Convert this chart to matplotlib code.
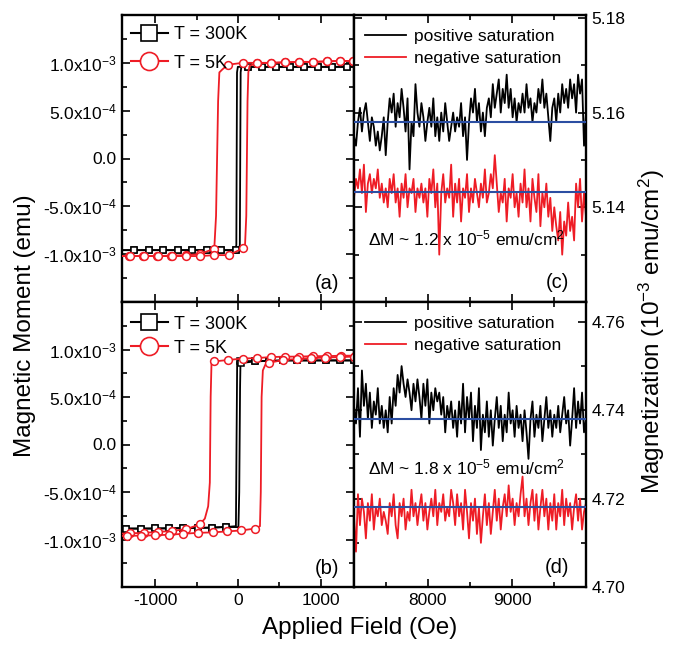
import numpy as np
import matplotlib
matplotlib.use('Agg')
import matplotlib.pyplot as plt
from matplotlib.lines import Line2D
from matplotlib.ticker import FixedLocator, FixedFormatter

plt.rcParams['font.family'] = ['Liberation Sans', 'DejaVu Sans']
plt.rcParams['mathtext.fontset'] = 'custom'
plt.rcParams['mathtext.rm'] = 'Liberation Sans'
plt.rcParams['mathtext.it'] = 'Liberation Sans:italic'
plt.rcParams['mathtext.bf'] = 'Liberation Sans:bold'
plt.rcParams['axes.unicode_minus'] = False

# ---------------- Hysteresis data (moment in 1e-3 emu) ----------------
# Panel (a) 300 K
a300_top_H = [1480, 1310, 1140, 968, 797, 627, 458, 287, 117]
a300_top_M = [0.958, 0.958, 0.958, 0.958, 0.958, 0.958, 0.958, 0.958, 0.958]
a300_bot_H = [-30, -205, -380, -556, -730, -903, -1077, -1250, -1480]
a300_bot_M = [-0.958, -0.958, -0.958, -0.958, -0.958, -0.958, -0.958, -0.958, -0.958]
a300_dtr_H = [-2, -12, -20, -28]
a300_dtr_M = [0.958, 0.9, -0.9, -0.958]
a300_atr_H = [15, 22, 32, 40]
a300_atr_M = [-0.958, -0.9, 0.9, 0.958]

# Panel (a) 5 K
a5_dtop_H = [1480, 1389, 1232, 1072, 907, 731, 566, 398, 229, 57, -124]
a5_dtop_M = [1.02, 1.02, 1.02, 1.015, 1.01, 1.01, 1.005, 1.0, 1.0, 1.0, 0.98]
a5_dtr_H = [-190, -225, -240, -265, -285]
a5_dtr_M = [0.93, 0.9, 0.6, -0.6, -0.92]
a5_dbot_H = [-293, -463, -633, -803, -973, -1143, -1313, -1480]
a5_dbot_M = [-0.945, -1.0, -1.01, -1.015, -1.02, -1.02, -1.02, -1.02]
a5_abot_H = [-1480, -1305, -1135, -965, -795, -625, -454, -285, -112, 57]
a5_abot_M = [-1.02, -1.02, -1.02, -1.02, -1.02, -1.02, -1.02, -1.01, -1.01, -0.94]
a5_atr_H = [85, 100, 115, 125, 140]
a5_atr_M = [-0.9, -0.6, 0.6, 0.9, 0.97]
a5_atop_H = [229, 398, 566, 731, 907, 1072, 1232, 1389, 1480]
a5_atop_M = [0.995, 1.0, 1.005, 1.01, 1.01, 1.015, 1.02, 1.02, 1.02]

# Panel (b) 300 K
b300_dtop_H = [1480, 1404, 1232, 1060, 888, 716, 544, 372, 200, 28]
b300_dtop_M = [0.885, 0.885, 0.885, 0.885, 0.885, 0.885, 0.885, 0.88, 0.88, 0.875]
b300_dtr_H = [-10, -18, -25]
b300_dtr_M = [0.87, 0.0, -0.86]
b300_dbot_H = [-144, -316, -488, -660, -832, -1004, -1176, -1348, -1480]
b300_dbot_M = [-0.868, -0.875, -0.878, -0.88, -0.882, -0.884, -0.885, -0.885, -0.885]
b300_abot_H = [-1480, -1348, -1176, -1004, -832, -660, -488, -316, -144]
b300_abot_M = [-0.885, -0.885, -0.885, -0.884, -0.882, -0.88, -0.878, -0.875, -0.868]
b300_atr_H = [5, 15, 25, 30]
b300_atr_M = [-0.87, -0.5, 0.6, 0.857]
b300_atop_H = [40, 200, 372, 544, 716, 888, 1060, 1232, 1404, 1480]
b300_atop_M = [0.857, 0.875, 0.88, 0.885, 0.885, 0.885, 0.885, 0.885, 0.885, 0.885]

# Panel (b) 5 K
b5_dtop_H = [1480, 1415, 1245, 1075, 905, 735, 565, 395, 225, 55, -115, -285]
b5_dtop_M = [0.935, 0.935, 0.935, 0.93, 0.93, 0.925, 0.925, 0.92, 0.91, 0.905, 0.89, 0.875]
b5_dtr_H = [-320, -330, -340, -360, -400, -440]
b5_dtr_M = [0.85, 0.5, -0.4, -0.65, -0.78, -0.82]
b5_dbot_H = [-454, -624, -794, -964, -1134, -1304, -1480]
b5_dbot_M = [-0.84, -0.89, -0.91, -0.92, -0.93, -0.935, -0.94]
b5_abot_H = [-1480, -1340, -1170, -1000, -830, -660, -486, -305, -133, 36, 205]
b5_abot_M = [-0.965, -0.96, -0.96, -0.955, -0.95, -0.94, -0.93, -0.925, -0.915, -0.905, -0.885]
b5_atr_H = [265, 275, 285, 300, 330]
b5_atr_M = [-0.86, -0.5, 0.5, 0.78, 0.84]
b5_atop_H = [377, 545, 715, 885, 1055, 1225, 1395, 1480]
b5_atop_M = [0.86, 0.89, 0.9, 0.91, 0.915, 0.92, 0.925, 0.925]

# ---------------- Saturation data (1e-3 emu/cm^2) ----------------
sat_field_start, sat_field_end = 7120, 9880

c_pos = [5.155, 5.153, 5.158, 5.161, 5.156, 5.160, 5.162, 5.158, 5.154, 5.159, 5.157, 5.153, 5.156, 5.152, 5.155, 5.159, 5.151,
         5.158, 5.163, 5.160, 5.164, 5.157, 5.162, 5.159, 5.165, 5.161, 5.156, 5.163, 5.148, 5.158, 5.155, 5.166, 5.160, 5.157,
         5.162, 5.159, 5.154, 5.158, 5.161, 5.157, 5.163, 5.155, 5.159, 5.154, 5.160, 5.156, 5.162, 5.158, 5.154, 5.157, 5.160,
         5.156, 5.159, 5.157, 5.162, 5.155, 5.159, 5.150, 5.158, 5.163, 5.160, 5.165, 5.158, 5.162, 5.156, 5.160, 5.155, 5.161,
         5.163, 5.159, 5.166, 5.161, 5.164, 5.167, 5.160, 5.165, 5.162, 5.168, 5.161, 5.165, 5.159, 5.163, 5.158, 5.162, 5.160,
         5.164, 5.160, 5.166, 5.161, 5.163, 5.158, 5.162, 5.160, 5.165, 5.162, 5.167, 5.161, 5.164, 5.159, 5.154, 5.161, 5.163,
         5.158, 5.164, 5.160, 5.166, 5.162, 5.165, 5.161, 5.167, 5.163, 5.166, 5.160, 5.168, 5.164, 5.167, 5.153, 5.160]
c_neg = [5.142, 5.146, 5.144, 5.148, 5.143, 5.149, 5.139, 5.145, 5.147, 5.143, 5.146, 5.144, 5.148, 5.142, 5.145, 5.141, 5.144,
         5.140, 5.146, 5.143, 5.147, 5.141, 5.144, 5.138, 5.145, 5.142, 5.147, 5.140, 5.144, 5.143, 5.146, 5.139, 5.144, 5.142,
         5.145, 5.141, 5.144, 5.138, 5.146, 5.143, 5.148, 5.140, 5.145, 5.130, 5.143, 5.147, 5.141, 5.144, 5.142, 5.149, 5.138,
         5.145, 5.141, 5.146, 5.137, 5.144, 5.142, 5.147, 5.139, 5.144, 5.141, 5.146, 5.143, 5.140, 5.145, 5.142, 5.148, 5.141,
         5.143, 5.147, 5.144, 5.151, 5.145, 5.139, 5.143, 5.141, 5.146, 5.137, 5.144, 5.142, 5.147, 5.140, 5.143, 5.138, 5.145,
         5.141, 5.148, 5.140, 5.144, 5.137, 5.146, 5.142, 5.139, 5.147, 5.136, 5.143, 5.140, 5.145, 5.138, 5.142, 5.135, 5.140,
         5.136, 5.133, 5.139, 5.130, 5.137, 5.134, 5.141, 5.135, 5.138, 5.133, 5.145, 5.140, 5.146, 5.137, 5.143, 5.138]
d_pos = [4.741, 4.737, 4.745, 4.734, 4.749, 4.741, 4.746, 4.738, 4.744, 4.736, 4.742, 4.739, 4.745, 4.737, 4.741, 4.736, 4.740,
         4.735, 4.743, 4.737, 4.745, 4.741, 4.748, 4.744, 4.750, 4.746, 4.743, 4.747, 4.744, 4.740, 4.746, 4.742, 4.747, 4.743,
         4.738, 4.746, 4.741, 4.747, 4.737, 4.744, 4.740, 4.745, 4.742, 4.744, 4.739, 4.743, 4.735, 4.741, 4.738, 4.742, 4.736,
         4.740, 4.734, 4.742, 4.737, 4.746, 4.735, 4.743, 4.738, 4.744, 4.733, 4.741, 4.736, 4.745, 4.731, 4.739, 4.735, 4.742,
         4.734, 4.740, 4.732, 4.738, 4.743, 4.736, 4.741, 4.733, 4.739, 4.735, 4.744, 4.737, 4.740, 4.734, 4.741, 4.736, 4.739,
         4.733, 4.740, 4.735, 4.729, 4.738, 4.742, 4.734, 4.739, 4.736, 4.741, 4.733, 4.738, 4.743, 4.736, 4.740, 4.734, 4.739,
         4.736, 4.741, 4.735, 4.739, 4.743, 4.737, 4.740, 4.732, 4.738, 4.745, 4.736, 4.742, 4.737, 4.744, 4.735, 4.738]
d_neg = [4.716, 4.708, 4.721, 4.714, 4.720, 4.717, 4.711, 4.719, 4.715, 4.721, 4.713, 4.718, 4.716, 4.720, 4.714, 4.717, 4.715,
         4.712, 4.719, 4.716, 4.721, 4.714, 4.711, 4.719, 4.716, 4.720, 4.713, 4.717, 4.715, 4.722, 4.716, 4.719, 4.714, 4.718,
         4.721, 4.715, 4.719, 4.713, 4.717, 4.720, 4.716, 4.722, 4.714, 4.719, 4.717, 4.721, 4.715, 4.718, 4.716, 4.722, 4.719,
         4.714, 4.721, 4.716, 4.719, 4.713, 4.722, 4.717, 4.711, 4.719, 4.715, 4.720, 4.712, 4.718, 4.710, 4.716, 4.721, 4.714,
         4.719, 4.712, 4.717, 4.722, 4.715, 4.720, 4.713, 4.718, 4.721, 4.716, 4.723, 4.717, 4.720, 4.714, 4.719, 4.716, 4.721,
         4.725, 4.716, 4.720, 4.714, 4.719, 4.722, 4.715, 4.721, 4.713, 4.718, 4.722, 4.716, 4.720, 4.713, 4.719, 4.715, 4.721,
         4.713, 4.719, 4.716, 4.722, 4.714, 4.720, 4.716, 4.719, 4.713, 4.718, 4.721, 4.715, 4.720, 4.713, 4.717, 4.719]
c_pos_mean, c_neg_mean = 5.158, 5.1432
d_pos_mean, d_neg_mean = 4.738, 4.718

left_ticks = [-1e-3, -5e-4, 0.0, 5e-4, 1e-3]
left_labels = ['-1.0x10$^{-3}$', '-5.0x10$^{-4}$', '0.0', '5.0x10$^{-4}$', '1.0x10$^{-3}$']
c_ticks = [5.14, 5.16, 5.18]
c_labels = ['5.14', '5.16', '5.18']
d_ticks = [4.70, 4.72, 4.74, 4.76]
d_labels = ['4.70', '4.72', '4.74', '4.76']
loop_xticks = [-1000, 0, 1000]
loop_xlabels = ['-1000', '0', '1000']
sat_xticks = [8000, 9000]
sat_xlabels = ['8000', '9000']

legend_loop = ['T = 300K', 'T = 5K']
legend_sat = ['positive saturation', 'negative saturation']
dm_c = r'$\Delta$M ~ 1.2 x 10$^{-5}$ emu/cm$^{2}$'
dm_d = r'$\Delta$M ~ 1.8 x 10$^{-5}$ emu/cm$^{2}$'

RED = '#ee1c25'
BLUE = '#2b4ea2'
LABEL_FS = 17.5

def branch(p1H, p1M, trH, trM, p2H, p2M):
    H = np.r_[p1H, trH, p2H]
    M = np.r_[p1M, trM, p2M] * 1e-3
    n1, k, n2 = len(p1H), len(trH), len(p2H)
    marks = list(range(n1)) + list(range(n1 + k, n1 + k + n2))
    return H, M, marks

def draw(ax, H, M, marks, color, marker):
    ax.plot(H, M, color=color, lw=1.3, marker=marker, ms=5 if marker == 's' else 5.6,
            mfc='white', mec=color, mew=1.1, markevery=marks, zorder=3)

def style(ax, right=False):
    for s in ax.spines.values():
        s.set_linewidth(1.7)
    ax.tick_params(which='both', direction='in', top=True, bottom=True, left=True, right=True,
                   labelsize=12.5, width=1.2, pad=4)
    ax.tick_params(which='major', length=6)
    ax.tick_params(which='minor', length=3.5)
    if right:
        ax.tick_params(labelleft=False, labelright=True)

fig = plt.figure(figsize=(6.74, 6.46), dpi=100)
L, W = 122 / 674, 232 / 674
R = 354 / 674
axa = fig.add_axes([L, 1 - 302 / 646, W, 287 / 646])
axb = fig.add_axes([L, 1 - 587 / 646, W, 285 / 646])
axc = fig.add_axes([R, 1 - 302 / 646, W, 287 / 646])
axd = fig.add_axes([R, 1 - 587 / 646, W, 285 / 646])

# (a)
draw(axa, *branch(a300_top_H, a300_top_M, a300_dtr_H, a300_dtr_M, a300_bot_H, a300_bot_M), 'black', 's')
draw(axa, *branch(a300_bot_H[::-1], a300_bot_M[::-1], a300_atr_H, a300_atr_M, a300_top_H[::-1], a300_top_M[::-1]), 'black', 's')
draw(axa, *branch(a5_dtop_H, a5_dtop_M, a5_dtr_H, a5_dtr_M, a5_dbot_H, a5_dbot_M), RED, 'o')
draw(axa, *branch(a5_abot_H, a5_abot_M, a5_atr_H, a5_atr_M, a5_atop_H, a5_atop_M), RED, 'o')
# (b)
draw(axb, *branch(b300_dtop_H, b300_dtop_M, b300_dtr_H, b300_dtr_M, b300_dbot_H, b300_dbot_M), 'black', 's')
draw(axb, *branch(b300_abot_H, b300_abot_M, b300_atr_H, b300_atr_M, b300_atop_H, b300_atop_M), 'black', 's')
draw(axb, *branch(b5_dtop_H, b5_dtop_M, b5_dtr_H, b5_dtr_M, b5_dbot_H, b5_dbot_M), RED, 'o')
draw(axb, *branch(b5_abot_H, b5_abot_M, b5_atr_H, b5_atr_M, b5_atop_H, b5_atop_M), RED, 'o')

for ax, lab, lsp, ly in ((axa, '(a)', 0.62, 0.998), (axb, '(b)', 0.38, 0.99)):
    ax.set_xlim(-1400, 1400)
    ax.set_ylim(-1.5e-3, 1.5e-3)
    ax.yaxis.set_major_locator(FixedLocator(left_ticks))
    ax.yaxis.set_major_formatter(FixedFormatter(left_labels))
    ax.yaxis.set_minor_locator(FixedLocator([-1.25e-3, -7.5e-4, -2.5e-4, 2.5e-4, 7.5e-4, 1.25e-3]))
    ax.xaxis.set_major_locator(FixedLocator(loop_xticks))
    ax.xaxis.set_major_formatter(FixedFormatter(loop_xlabels))
    ax.xaxis.set_minor_locator(FixedLocator([-500, 500]))
    style(ax)
    ax.text(0.885, 0.065, lab, transform=ax.transAxes, ha='center', va='center', fontsize=14.5)
    hs = [Line2D([], [], color='black', lw=1.5, marker='s', ms=12, mfc='white', mec='black', mew=1.2),
          Line2D([], [], color=RED, lw=1.5, marker='o', ms=13, mfc='white', mec=RED, mew=1.2)]
    ax.legend(hs, legend_loop, loc='upper left', bbox_to_anchor=(-0.01, ly), frameon=False,
              fontsize=13, handlelength=2.1, handletextpad=0.3, labelspacing=lsp, borderaxespad=0.2)
axa.tick_params(labelbottom=False)

# (c), (d)
satH = np.linspace(sat_field_start, sat_field_end, len(c_pos))
for ax, pos, neg, mp, mn, lab, dm, dmy in ((axc, c_pos, c_neg, c_pos_mean, c_neg_mean, '(c)', dm_c, 0.22),
                                           (axd, d_pos, d_neg, d_pos_mean, d_neg_mean, '(d)', dm_d, 0.42)):
    ax.plot(satH, pos, color='black', lw=1.3, label=legend_sat[0])
    ax.plot(satH, neg, color=RED, lw=1.3, label=legend_sat[1])
    ax.axhline(mp, color=BLUE, lw=1.5, zorder=4)
    ax.axhline(mn, color=BLUE, lw=1.5, zorder=4)
    ax.set_xlim(sat_field_start, sat_field_end)
    ax.xaxis.set_major_locator(FixedLocator(sat_xticks))
    ax.xaxis.set_major_formatter(FixedFormatter(sat_xlabels))
    ax.xaxis.set_minor_locator(FixedLocator([7500, 8500, 9500]))
    style(ax, right=True)
    ax.text(0.875, 0.068, lab, transform=ax.transAxes, ha='center', va='center', fontsize=14.5)
    ax.text(0.485, dmy, dm, transform=ax.transAxes, ha='center', va='center', fontsize=12.5)
    ax.legend(loc='upper left', bbox_to_anchor=(-0.005, 0.995), frameon=False, fontsize=12.5,
              handlelength=2.35, handletextpad=0.45, labelspacing=0.4, borderaxespad=0.3)

axc.set_ylim(5.12, 5.1806)
axc.yaxis.set_major_locator(FixedLocator(c_ticks))
axc.yaxis.set_major_formatter(FixedFormatter(c_labels))
axc.yaxis.set_minor_locator(FixedLocator([5.13, 5.15, 5.17]))
axc.tick_params(labelbottom=False)
axd.set_ylim(4.70, 4.7645)
axd.yaxis.set_major_locator(FixedLocator(d_ticks))
axd.yaxis.set_major_formatter(FixedFormatter(d_labels))
axd.yaxis.set_minor_locator(FixedLocator([4.71, 4.73, 4.75]))

fig.text(360 / 674, 1 - 628 / 646, 'Applied Field (Oe)', ha='center', va='center', fontsize=LABEL_FS)
fig.text(25 / 674, 1 - 326 / 646, 'Magnetic Moment (emu)', ha='center', va='center', rotation=90,
         fontsize=LABEL_FS)
fig.text(652 / 674, 1 - 332 / 646, r'Magnetization (10$^{-3}$ emu/cm$^{2}$)', ha='center', va='center',
         rotation=90, fontsize=LABEL_FS)

fig.savefig('out.png', dpi=100)
